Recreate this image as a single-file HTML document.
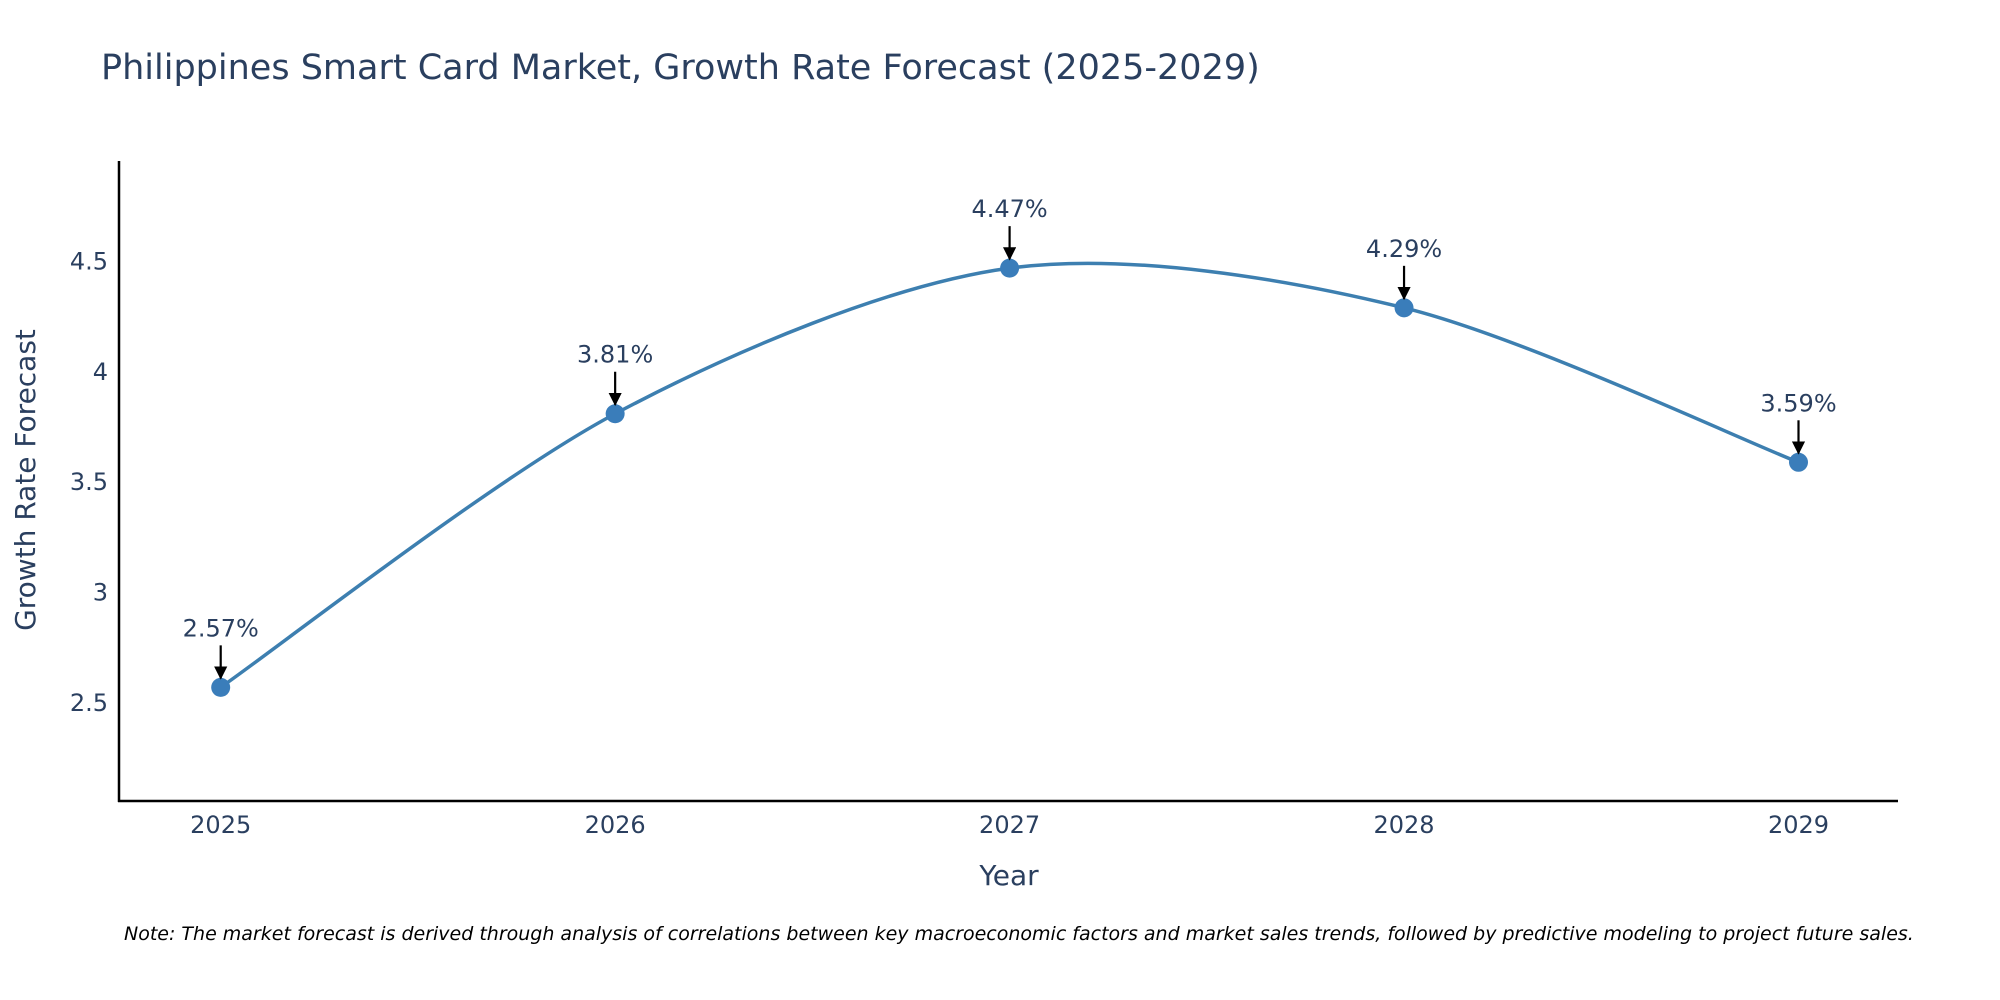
<!DOCTYPE html>
<html><head><meta charset="utf-8"><style>
html,body{margin:0;padding:0;background:#fff;}
svg{display:block;font-family:"DejaVu Sans","Liberation Sans",sans-serif;}
</style></head><body>
<svg id="chart" width="2000" height="1000" viewBox="0 0 2000 1000">
<text x="101" y="79" font-size="35" fill="#2a3f5f">Philippines Smart Card Market, Growth Rate Forecast (2025-2029)</text>
<g id="plot"></g>
<line x1="119" y1="161" x2="119" y2="802" stroke="#000" stroke-width="2.5"/>
<line x1="118" y1="801" x2="1898" y2="801" stroke="#000" stroke-width="2.5"/>
<text x="1009" y="885" font-size="28" fill="#2a3f5f" text-anchor="middle">Year</text>
<text transform="translate(35,480) rotate(-90)" font-size="28" fill="#2a3f5f" text-anchor="middle">Growth Rate Forecast</text>
<text x="124" y="940" font-size="19" font-style="italic" fill="#000">Note: The market forecast is derived through analysis of correlations between key macroeconomic factors and market sales trends, followed by predictive modeling to project future sales.</text>
</svg>
<script>
const years = [2025, 2026, 2027, 2028, 2029];
const growth = [2.57, 3.81, 4.47, 4.29, 3.59];
const yTicks = [2.5, 3, 3.5, 4, 4.5];
const yTickLabels = ["2.5", "3", "3.5", "4", "4.5"];

const NS = "http://www.w3.org/2000/svg";
const g = document.getElementById('plot');
function xS(v){ return 220.7 + (v - 2025) * 394.45; }
function yS(v){ return 702.8 - (v - 2.5) * 220.65; }
function mk(tag, attrs){ const e = document.createElementNS(NS, tag); for (const k in attrs) e.setAttribute(k, attrs[k]); g.appendChild(e); return e; }

yTicks.forEach((t, i) => {
  const e = mk('text', {x: 108, y: yS(t) + 8, 'font-size': 24, fill: '#2a3f5f', 'text-anchor': 'end'});
  e.textContent = yTickLabels[i];
  
  
});
years.forEach(yr => {
  const e = mk('text', {x: xS(yr), y: 833, 'font-size': 24, fill: '#2a3f5f', 'text-anchor': 'middle'});
  e.textContent = String(yr);
  
  
});

const pts = years.map((y, i) => [xS(y), yS(growth[i])]);
let d = `M${pts[0][0]},${pts[0][1]}`;
const t = 0.15;
for (let i = 0; i < pts.length - 1; i++) {
  const p0 = pts[Math.max(0, i - 1)], p1 = pts[i], p2 = pts[i + 1], p3 = pts[Math.min(pts.length - 1, i + 2)];
  const c1 = [p1[0] + (p2[0] - p0[0]) * t, p1[1] + (p2[1] - p0[1]) * t];
  const c2 = [p2[0] - (p3[0] - p1[0]) * t, p2[1] - (p3[1] - p1[1]) * t];
  d += ` C${c1[0]},${c1[1]} ${c2[0]},${c2[1]} ${p2[0]},${p2[1]}`;
}
const line = mk('path', {d: d, fill: 'none', stroke: '#3d7fb0', 'stroke-width': 3.5});



mk('defs', {}).innerHTML = '<marker id="arr" viewBox="0 0 10 10" refX="9" refY="5" markerWidth="6" markerHeight="6" orient="auto"><path d="M0,0 L10,5 L0,10 z" fill="#000"/></marker>';

pts.forEach((p, i) => {
  const c = mk('circle', {cx: p[0], cy: p[1], r: 9.5, fill: '#3a7dba'});
  
  
  const a = mk('line', {x1: p[0], y1: p[1] - 42, x2: p[0], y2: p[1] - 9, stroke: '#000', 'stroke-width': 2.2, 'marker-end': 'url(#arr)'});
  
  
  const l = mk('text', {x: p[0], y: p[1] - 51, 'font-size': 24, fill: '#2a3f5f', 'text-anchor': 'middle'});
  l.textContent = growth[i].toFixed(2) + '%';
  
  
});
</script>
</body></html>
